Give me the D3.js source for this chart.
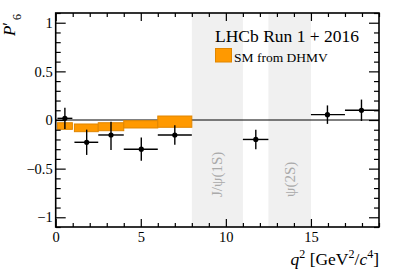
<!DOCTYPE html>
<html>
<head>
<meta charset="utf-8">
<script src="https://cdn.jsdelivr.net/npm/d3@7"></script>
<style>
  body { margin: 0; background: #fff; }
  svg { display: block; font-family: "Liberation Serif", "DejaVu Serif", serif; }
</style>
</head>
<body>
<svg id="chart" width="399" height="271"></svg>
<script>
// measured points (P'6)
const binLo = [0.1, 1.1, 2.5, 4, 6, 11, 15, 17];
const binHi = [0.98, 2.5, 4, 6, 8, 12.5, 17, 19];
const binMean = [0.54, 1.82, 3.25, 5.03, 7.0, 11.76, 15.97, 17.97];
const values = [0.017, -0.229, -0.154, -0.30, -0.154, -0.20, 0.055, 0.10];
const errUp = [0.11, 0.13, 0.137, 0.12, 0.10, 0.10, 0.095, 0.11];
const errDown = [0.11, 0.13, 0.154, 0.12, 0.10, 0.10, 0.095, 0.11];

// SM prediction boxes
const smLo = [0.1, 1.1, 2.5, 4, 6];
const smHi = [0.98, 2.5, 4, 6, 8];
const smMin = [-0.096, -0.12, -0.11, -0.082, -0.075];
const smMax = [-0.028, -0.041, -0.028, -0.007, 0.041];

// vetoed charmonium regions
const vetoLo = [8, 12.5];
const vetoHi = [11, 15];
const vetoLabels = ['J/ψ(1S)', 'ψ(2S)'];

const xMajor = [0, 5, 10, 15];
const yMajor = [-1, -0.5, 0, 0.5, 1];

const svg = d3.select('#chart');
const padL = 55.7, padR = 379, padT = 13, padB = 227;

const x = d3.scaleLinear().domain([0, 19]).range([padL, padR]);
const y = d3.scaleLinear().domain([-1.1, 1.1]).range([padB, padT]);

const orange = '#ff9900';
const fmt = (d) => (d < 0 ? '\u2212' : '') + Math.abs(d);

// veto bands
const bands = svg.append('g');
vetoLo.forEach((lo, i) => {
	bands.append('rect')
		.attr('x', x(lo))
		.attr('y', padT)
		.attr('width', x(vetoHi[i]) - x(lo))
		.attr('height', padB - padT)
		.attr('fill', '#f0f0f0');
	const cx = (x(lo) + x(vetoHi[i])) / 2;
	bands.append('text')
		.attr('transform', `translate(${cx + 5},197) rotate(-90)`)
		.attr('font-size', 15)
		.attr('fill', '#aaaaaa')
		.text(vetoLabels[i]);
});

// zero line
svg.append('line')
	.attr('x1', padL).attr('x2', padR)
	.attr('y1', y(0)).attr('y2', y(0))
	.attr('stroke', '#000').attr('stroke-width', 1);

// SM boxes
svg.append('g')
	.selectAll('rect')
	.data(smLo)
	.join('rect')
	.attr('x', (d) => x(d))
	.attr('width', (d, i) => x(smHi[i]) - x(d))
	.attr('y', (d, i) => y(smMax[i]))
	.attr('height', (d, i) => y(smMin[i]) - y(smMax[i]))
	.attr('fill', orange)
	.attr('stroke', '#e08600')
	.attr('stroke-width', 1);

// data points
const pts = svg.append('g').attr('stroke', '#000').attr('stroke-width', 1.4);
values.forEach((v, i) => {
	pts.append('line')
		.attr('x1', x(binLo[i])).attr('x2', x(binHi[i]))
		.attr('y1', y(v)).attr('y2', y(v));
	pts.append('line')
		.attr('x1', x(binMean[i])).attr('x2', x(binMean[i]))
		.attr('y1', y(v + errUp[i])).attr('y2', y(v - errDown[i]));
	pts.append('circle')
		.attr('cx', x(binMean[i])).attr('cy', y(v))
		.attr('r', 2.6).attr('fill', '#000').attr('stroke', 'none');
});

// axes: ticks point inward
const xMinor = d3.range(0, 20, 1).filter((d) => d % 5 !== 0);
const yMinor = d3.range(-11, 12).map((d) => d / 10).filter((d) => Math.round(d * 10) % 5 !== 0);

function addAxis(axisFn, scale, pos, values, size, labels) {
	const g = svg.append('g')
		.attr('transform', pos)
		.call(axisFn(scale).tickValues(values).tickSize(-size).tickPadding(labels ? 5 : 0)
			.tickFormat(labels ? fmt : () => ''));
	g.select('.domain').remove();
	g.attr('font-family', null);
	g.selectAll('.tick line').attr('stroke', '#000').attr('stroke-width', 1.2);
	g.selectAll('text').attr('font-family', 'Liberation Serif').attr('font-size', 14.5).attr('fill', '#000');
	return g;
}

addAxis(d3.axisBottom, x, `translate(0,${padB})`, xMajor, 8, true);
addAxis(d3.axisBottom, x, `translate(0,${padB})`, xMinor, 4, false);
addAxis(d3.axisTop, x, `translate(0,${padT})`, xMajor, 8, false);
addAxis(d3.axisTop, x, `translate(0,${padT})`, xMinor, 4, false);
addAxis(d3.axisLeft, y, `translate(${padL},0)`, yMajor, 10, true).selectAll('text').attr('dx', 2);
addAxis(d3.axisLeft, y, `translate(${padL},0)`, yMinor, 5, false);
addAxis(d3.axisRight, y, `translate(${padR},0)`, yMajor, 10, false);
addAxis(d3.axisRight, y, `translate(${padR},0)`, yMinor, 5, false);

// frame
svg.append('rect')
	.attr('x', padL).attr('y', padT)
	.attr('width', padR - padL).attr('height', padB - padT)
	.attr('fill', 'none').attr('stroke', '#000').attr('stroke-width', 1.6);

// legend
svg.append('text')
	.attr('x', 215).attr('y', 42)
	.attr('font-size', 17.5)
	.text('LHCb Run 1 + 2016');
svg.append('rect')
	.attr('x', 215.5).attr('y', 48.5)
	.attr('width', 16).attr('height', 13.5)
	.attr('fill', orange).attr('stroke', '#e08600');
svg.append('text')
	.attr('x', 234).attr('y', 62)
	.attr('font-size', 13.5)
	.text('SM from DHMV');

// x label
const xl = svg.append('text')
	.attr('x', padR).attr('y', 265)
	.attr('text-anchor', 'end')
	.attr('font-size', 17.5);
xl.append('tspan').attr('font-style', 'italic').text('q');
xl.append('tspan').attr('dy', -7).attr('font-size', 12).text('2');
xl.append('tspan').attr('dy', 7).text(' [GeV');
xl.append('tspan').attr('dy', -7).attr('font-size', 12).text('2');
xl.append('tspan').attr('dy', 7).text('/');
xl.append('tspan').attr('font-style', 'italic').text('c');
xl.append('tspan').attr('dy', -7).attr('font-size', 12).text('4');
xl.append('tspan').attr('dy', 7).text(']');

// y label
const yl = svg.append('text')
	.attr('transform', `translate(15,${padT + 1}) rotate(-90)`)
	.attr('text-anchor', 'end')
	.attr('font-size', 17);
yl.append('tspan').attr('font-style', 'italic').text('P');
yl.append('tspan').attr('dy', -1).text('\u2032');
yl.append('tspan').attr('dx', 2).attr('dy', 7).attr('font-size', 12).text('6');
</script>
</body>
</html>
